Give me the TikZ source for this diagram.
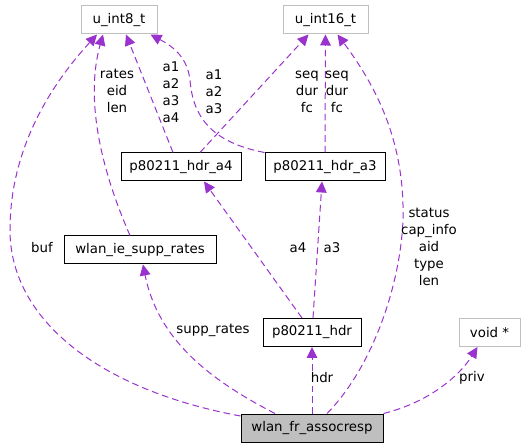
\documentclass[tikz,border=0pt]{standalone}
\usepackage{fontspec}
\setmainfont{DejaVu Sans}
\usepackage{tikz}
\usetikzlibrary{arrows.meta}
\usetikzlibrary{calc}
\definecolor{edgepurple}{HTML}{9A32CD}
\definecolor{boxgray}{HTML}{BFBFBF}

\begin{document}
\begin{tikzpicture}[x=0.75pt, y=-0.75pt, font=\fontsize{10pt}{12.75pt}\selectfont]
    \tikzstyle{classbox} = [draw=black, line width=0.75pt, rectangle, minimum height=21pt, inner sep=0pt, text centered];
    \tikzstyle{typebox} = [classbox, draw=boxgray];
    \tikzstyle{edge} = [draw=edgepurple, line width=0.75pt, dash pattern=on 5pt off 3pt, -{Triangle[length=8.25pt, width=8pt]}];
    \tikzstyle{lbl} = [align=center, inner sep=0pt];
    \useasboundingbox (0,0) rectangle (524,448);

    % boxes
    \node[typebox, minimum width=57pt] (u8) at (119,20) {u\_int8\_t};
    \node[typebox, minimum width=63.75pt] (u16) at (325.5,20) {u\_int16\_t};
    \node[classbox, minimum width=90pt] (hdra4) at (181,167) {p80211\_hdr\_a4};
    \node[classbox, minimum width=90pt] (hdra3) at (325,167) {p80211\_hdr\_a3};
    \node[classbox, minimum width=114pt] (supprates) at (140,250) {wlan\_ie\_supp\_rates};
    \node[classbox, minimum width=73.5pt] (hdr) at (312,332.5) {p80211\_hdr};
    \node[typebox, minimum width=45.75pt] (void) at (489.5,332.5) {void *};
    \node[classbox, fill=boxgray, minimum width=106.5pt] (assocresp) at (312,428) {wlan\_fr\_assocresp};

    % member edges
    \path[edge] ($(assocresp.west)+(0,-12)$) .. controls (100,390) and (10,320) .. (10,230)
        .. controls (10,140) and (60,75) .. ($(u8.south)+(-22,0)$);
    \path[edge] ($(supprates.north)+(-10,0)$) .. controls (110,190) and (82,110) .. ($(u8.south)+(-16,0)$);
    \path[edge] ($(hdra4.north)+(-8,0)$) -- ($(u8.south)+(7,0)$);
    \path[edge] (hdra3.north west) .. controls (215,143) and (193,120) .. (190,80)
        .. controls (187,55) and (170,45) .. ($(u8.south east)+(-7,0)$);
    \path[edge] ($(hdra4.north)+(19,0)$) -- ($(u16.south)+(-17,0)$);
    \path[edge] (hdra3) -- (u16);
    \path[edge] ($(assocresp.north)+(15,0)$) .. controls (370,370) and (400,290) .. (403,220)
        .. controls (405,140) and (375,85) .. ($(u16.south)+(12,0)$);
    \path[edge] ($(hdr.north)+(-10,0)$) -- ($(hdra4.south)+(23,0)$);
    \path[edge] ($(hdr.north)+(1,0)$) -- ($(hdra3.south)+(-3,0)$);
    \path[edge] ($(assocresp.north)+(-37,0)$) .. controls (210,380) and (158,340) .. ($(supprates.south)+(3,0)$);
    \path[edge] (assocresp) -- (hdr);
    \path[edge] (assocresp.north east) .. controls (430,402) and (460,375) .. ($(void.south)+(-12,0)$);

    % labels
    \node[lbl] (lbuf) at (42,248) {buf};
    \node[lbl] (lrates) at (117,91) {rates\\eid\\len};
    \node[lbl] (la14) at (171,92) {a1\\a2\\a3\\a4};
    \node[lbl] (la13) at (214,92) {a1\\a2\\a3};
    \node[lbl] (lseq4) at (307,92) {seq\\dur\\fc};
    \node[lbl] (lseq3) at (337,92) {seq\\dur\\fc};
    \node[lbl] (lstatus) at (429,247) {status\\cap\_info\\aid\\type\\len};
    \node[lbl] (la4) at (298,248) {a4};
    \node[lbl] (la3) at (332,248) {a3};
    \node[lbl] (lsupp) at (213,330) {supp\_rates};
    \node[lbl] (lhdr) at (322,378) {hdr};
    \node[lbl] (lpriv) at (472,378) {priv};
\end{tikzpicture}
\end{document}
